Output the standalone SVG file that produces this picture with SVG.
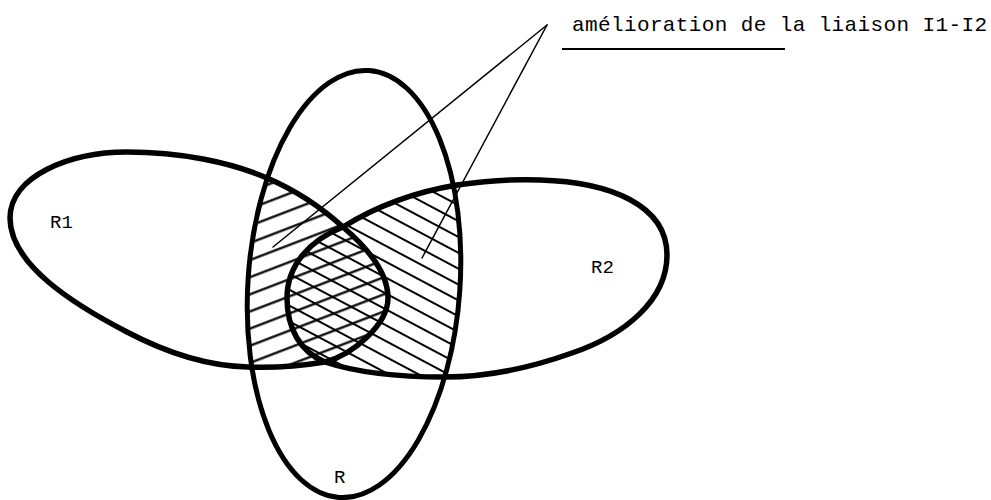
<svg xmlns="http://www.w3.org/2000/svg" xmlns:xlink="http://www.w3.org/1999/xlink" width="991" height="500" viewBox="0 0 991 500">
<style>
.outline{fill:none;stroke:#000;stroke-linejoin:round}
.lbl{font-family:"Liberation Mono","DejaVu Sans Mono",monospace;font-size:19px;fill:#000}
.conn{stroke:#000;stroke-width:1.5;fill:none;stroke-linecap:round}
.hl{stroke:#000;stroke-width:2.2}
</style>
<defs>
<path id="pR1" d="M10,218 C10,176 70,152 127,152 C180,152 230,162 267,178 C295,190 322,208 343,227 C370,250 388,275 388,298 C388,325 352,355 325,362 C300,366 270,368 248,367 C205,366 165,352 127,332 C75,305 10,265 10,218 Z"/>
<path id="pR2" d="M343,227 C375,207 415,192 457,185 C485,181 515,179 540,180 C610,182 667,205 667,255 C667,300 625,335 572,353 C530,368 490,377 445,377 C400,377 355,372 325,362 C300,352 287,328 287,298 C287,265 310,240 343,227 Z"/>
<clipPath id="cR"><ellipse cx="354" cy="284" rx="106" ry="214" transform="rotate(4 354 284)"/></clipPath>
<pattern id="hA" patternUnits="userSpaceOnUse" width="40" height="16" patternTransform="rotate(-21)"><line class="hl" x1="0" y1="12.3" x2="40" y2="12.3"/></pattern>
<pattern id="hB" patternUnits="userSpaceOnUse" width="40" height="14" patternTransform="rotate(28)"><line class="hl" x1="0" y1="8" x2="40" y2="8"/></pattern>
</defs>
<rect width="991" height="500" fill="#fff"/>
<g id="hatching" clip-path="url(#cR)">
<use xlink:href="#pR1" href="#pR1" fill="url(#hA)"/>
<use xlink:href="#pR2" href="#pR2" fill="url(#hB)"/>
</g>
<g id="R">
<ellipse class="outline" stroke-width="5" cx="354" cy="284" rx="106" ry="214" transform="rotate(4 354 284)"/>
<text class="lbl" x="334" y="483">R</text>
</g>
<g id="R1">
<use xlink:href="#pR1" href="#pR1" class="outline" stroke-width="5.5"/>
<text class="lbl" x="50" y="228">R1</text>
</g>
<g id="R2">
<use xlink:href="#pR2" href="#pR2" class="outline" stroke-width="5.5"/>
<text class="lbl" x="591" y="273">R2</text>
</g>
<g id="connectors">
<line class="conn" x1="547" y1="25" x2="273" y2="247"/>
<line class="conn" x1="547" y1="25" x2="422" y2="258"/>
</g>
<g id="annotation">
<text x="572" y="31" font-family="'Liberation Mono','DejaVu Sans Mono',monospace" font-size="21" textLength="415" lengthAdjust="spacing">amélioration de la liaison I1-I2</text>
<line x1="562" y1="49" x2="785" y2="49" stroke="#000" stroke-width="2"/>
</g>
</svg>
